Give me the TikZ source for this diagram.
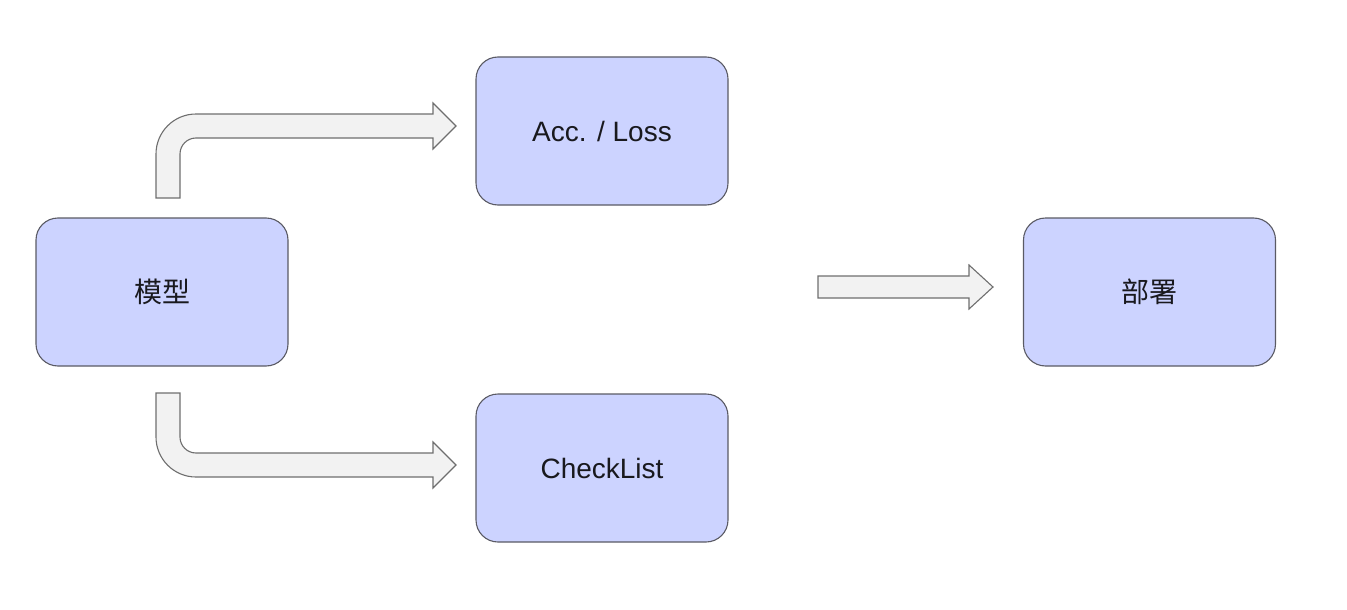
\documentclass[tikz,border=0pt]{standalone}
\usepackage{fontspec}
\setmainfont{Liberation Sans}
\newfontfamily\cjk{Noto Sans CJK SC}
\definecolor{boxfill}{RGB}{204,211,255}
\definecolor{boxline}{RGB}{90,90,100}
\definecolor{arrfill}{RGB}{242,242,242}
\definecolor{arrline}{RGB}{110,110,110}
\definecolor{txt}{RGB}{25,25,30}
\tikzset{
  block/.style={draw=boxline, fill=boxfill, line width=1.1pt, rounded corners=22pt,
    minimum width=252pt, minimum height=148pt, inner sep=0pt,
    font=\fontsize{28}{33}\selectfont, text=txt},
  bigarrow/.style={draw=arrline, fill=arrfill, line width=1.1pt, line join=miter}
}
\begin{document}
\begin{tikzpicture}[x=1pt,y=-1pt]
\useasboundingbox (0,0) rectangle (1347,610);
\node[block] (model) at (162,292) {\cjk 模型};
\node[block] (acc) at (602,131) {Acc. / Loss};
\node[block] (check) at (602,468) {CheckList};
\node[block] (deploy) at (1149.5,292) {\cjk 部署};
% upper bent arrow
\draw[bigarrow] (156,198) -- (156,154) arc[start angle=180,end angle=270,radius=40]
  -- (433,114) -- (433,103) -- (456,126) -- (433,149) -- (433,138) -- (196,138)
  arc[start angle=270,end angle=180,radius=16] -- (180,198) -- cycle;
% lower bent arrow
\draw[bigarrow] (180,393) -- (180,437) arc[start angle=180,end angle=90,radius=16]
  -- (433,453) -- (433,442) -- (456,465) -- (433,488) -- (433,477) -- (196,477)
  arc[start angle=90,end angle=180,radius=40] -- (156,393) -- cycle;
% right arrow
\draw[bigarrow] (818,276) -- (969,276) -- (969,265) -- (993,287) -- (969,309)
  -- (969,298) -- (818,298) -- cycle;
\end{tikzpicture}
\end{document}
